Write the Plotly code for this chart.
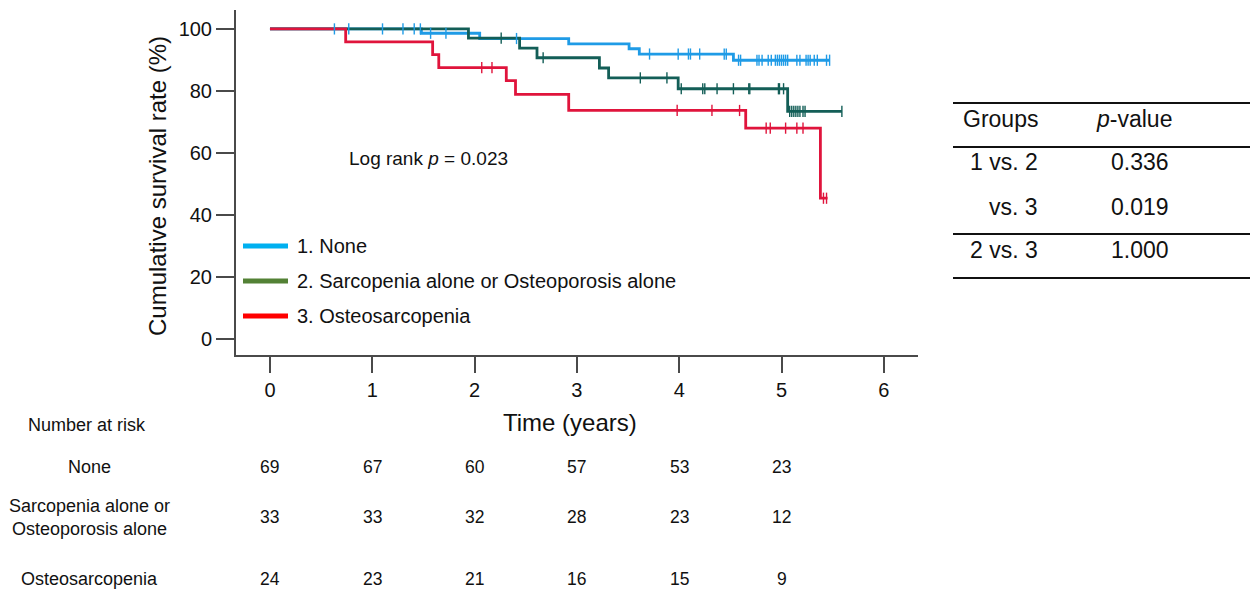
import plotly.graph_objects as go

# ---- Kaplan-Meier step data (time in years, cumulative survival in %) ----
none_t = [0, 1.48, 2.05, 2.92, 3.51, 3.61, 4.53]
none_s = [100, 98.6, 96.9, 95.2, 93.6, 91.9, 89.9]
none_end = 5.47
none_cens = [0.63, 0.77, 1.10, 1.30, 1.41, 1.47, 1.57, 1.72, 2.41, 3.71, 3.99,
             4.09, 4.11, 4.20, 4.44, 4.46, 4.58, 4.60, 4.76, 4.78, 4.81, 4.87,
             4.90, 4.94, 4.96, 4.98, 5.00, 5.02, 5.04, 5.06, 5.15, 5.18, 5.24,
             5.26, 5.28, 5.32, 5.35, 5.44, 5.47]

sarc_t = [0, 1.94, 2.44, 2.61, 3.22, 3.31, 3.99, 5.06]
sarc_s = [100, 97.0, 93.8, 90.7, 87.4, 84.2, 80.7, 73.4]
sarc_end = 5.59
sarc_cens = [2.26, 2.67, 3.62, 3.88, 4.02, 4.23, 4.25, 4.37, 4.53, 4.68, 4.69,
             4.97, 4.98, 5.02, 5.08, 5.10, 5.12, 5.14, 5.16, 5.18, 5.21, 5.23,
             5.59]

osteo_t = [0, 0.74, 1.59, 1.65, 2.31, 2.40, 2.92, 4.65, 5.38]
osteo_s = [100, 95.8, 91.7, 87.5, 83.3, 78.9, 73.7, 68.0, 45.4]
osteo_end = 5.45
osteo_cens = [2.07, 2.17, 3.98, 4.32, 4.59, 4.85, 4.89, 5.04, 5.15, 5.21,
              5.41, 5.44]

group_names = ["1. None", "2. Sarcopenia alone or Osteoporosis alone",
               "3. Osteosarcopenia"]

# ---- Number at risk ----
risk_years = [0, 1, 2, 3, 4, 5]
risk_labels = ["None", "Sarcopenia alone or<br>Osteoporosis alone",
               "Osteosarcopenia"]
risk_none = [69, 67, 60, 57, 53, 23]
risk_sarc = [33, 33, 32, 28, 23, 12]
risk_osteo = [24, 23, 21, 16, 15, 9]

# ---- Pairwise log-rank comparisons ----
pair_groups = ["1 vs. 2", "vs. 3", "2 vs. 3"]
pair_pvalues = ["0.336", "0.019", "1.000"]
logrank_p = "0.023"

line_colors = ["#1f9be6", "#135e57", "#e0143c"]
legend_colors = ["#00b0f0", "#538135", "#ff0000"]

FONT = "Liberation Sans, Arial, sans-serif"

# plot area in pixels (figure 1250 x 592)
L, R, T, B = 236, 918, 10, 355
W, H = R - L, B - T


def px_x(px):
    return (px - L) / W


def px_y(py):
    return (B - py) / H


def level_at(times, surv, t):
    val = surv[0]
    for ti, si in zip(times, surv):
        if ti <= t:
            val = si
    return val


fig = go.Figure()

series = [
    (none_t, none_s, none_end, none_cens),
    (sarc_t, sarc_s, sarc_end, sarc_cens),
    (osteo_t, osteo_s, osteo_end, osteo_cens),
]

for (t, s, end, _), col, name in zip(series, line_colors, group_names):
    fig.add_trace(go.Scatter(
        x=t + [end], y=s + [s[-1]], mode="lines", name=name,
        line=dict(color=col, width=2.8, shape="hv"), showlegend=False,
        hoverinfo="skip"))

for (t, s, end, cens), col, name in zip(series, line_colors, group_names):
    fig.add_trace(go.Scatter(
        x=cens, y=[level_at(t, s, c) for c in cens], mode="markers",
        name=name + " (censored)",
        marker=dict(symbol="line-ns-open", size=8, color=col,
                    line=dict(color=col, width=1.4)),
        showlegend=False, hoverinfo="skip"))

annotations = []
shapes = []

# legend drawn as sample lines with labels
for i, (name, col) in enumerate(zip(group_names, legend_colors)):
    py = [246, 281, 316][i]
    shapes.append(dict(type="line", xref="paper", yref="paper",
                       x0=px_x(243), x1=px_x(288), y0=px_y(py), y1=px_y(py),
                       line=dict(color=col, width=5)))
    annotations.append(dict(xref="paper", yref="paper", x=px_x(295),
                            y=px_y(py), text=name, showarrow=False,
                            xanchor="left", yanchor="middle",
                            font=dict(size=20, color="#111111", family=FONT)))

annotations.append(dict(xref="paper", yref="paper", x=px_x(347), y=px_y(158),
                        text="Log rank <i>p</i> = " + logrank_p,
                        showarrow=False, xanchor="left", yanchor="middle",
                        font=dict(size=19, color="#111111", family=FONT)))

# axis titles
annotations.append(dict(xref="paper", yref="paper", x=px_x(157), y=px_y(186),
                        text="Cumulative survival rate (%)", textangle=-90,
                        showarrow=False, xanchor="center", yanchor="middle",
                        font=dict(size=24, color="#111111", family=FONT)))
annotations.append(dict(xref="paper", yref="paper", x=px_x(570), y=px_y(423),
                        text="Time (years)", showarrow=False,
                        xanchor="center", yanchor="middle",
                        font=dict(size=24, color="#111111", family=FONT)))

# number-at-risk table
annotations.append(dict(xref="paper", yref="paper", x=px_x(87), y=px_y(425),
                        text="Number at risk", showarrow=False,
                        xanchor="center", yanchor="middle",
                        font=dict(size=18, color="#111111", family=FONT)))
row_py = [467, 517, 579]
for lab, counts, py in zip(risk_labels, [risk_none, risk_sarc, risk_osteo],
                           row_py):
    annotations.append(dict(xref="paper", yref="paper", x=px_x(89),
                            y=px_y(py), text=lab, showarrow=False,
                            xanchor="center", yanchor="middle",
                            font=dict(size=18, color="#111111", family=FONT)))
    for yr, n in zip(risk_years, counts):
        annotations.append(dict(xref="x", yref="paper", x=yr, y=px_y(py),
                                text=str(n), showarrow=False,
                                xanchor="center", yanchor="middle",
                                font=dict(size=17.5, color="#111111",
                                          family=FONT)))

# pairwise comparison table
for py in [103, 147, 234, 278]:
    shapes.append(dict(type="line", xref="paper", yref="paper",
                       x0=px_x(953), x1=px_x(1252), y0=px_y(py), y1=px_y(py),
                       line=dict(color="#111111", width=2)))
annotations.append(dict(xref="paper", yref="paper", x=px_x(1040),
                        y=px_y(119), text="Groups", showarrow=False,
                        xanchor="right", yanchor="middle",
                        font=dict(size=23, color="#111111", family=FONT)))
annotations.append(dict(xref="paper", yref="paper", x=px_x(1134),
                        y=px_y(119), text="<i>p</i>-value", showarrow=False,
                        xanchor="center", yanchor="middle",
                        font=dict(size=23, color="#111111", family=FONT)))
for g, p, py in zip(pair_groups, pair_pvalues, [162, 207, 250]):
    annotations.append(dict(xref="paper", yref="paper", x=px_x(1040),
                            y=px_y(py), text=g, showarrow=False,
                            xanchor="right", yanchor="middle",
                            font=dict(size=23, color="#111111", family=FONT)))
    annotations.append(dict(xref="paper", yref="paper", x=px_x(1140),
                            y=px_y(py), text=p, showarrow=False,
                            xanchor="center", yanchor="middle",
                            font=dict(size=23, color="#111111", family=FONT)))

axis_common = dict(showgrid=False, zeroline=False, showline=True,
                   linecolor="#4a4a4a", linewidth=2, ticks="outside",
                   tickcolor="#4a4a4a", tickwidth=2,
                   tickfont=dict(size=20, color="#111111", family=FONT))

fig.update_layout(
    width=1250, height=592,
    margin=dict(l=L, r=1250 - R, t=T, b=592 - B),
    paper_bgcolor="white", plot_bgcolor="white",
    showlegend=False,
    xaxis=dict(range=[-0.332, 6.334], tickvals=[0, 1, 2, 3, 4, 5, 6],
               ticklen=16, **axis_common),
    yaxis=dict(range=[-5.16, 106.1], tickvals=[0, 20, 40, 60, 80, 100],
               ticklen=18, **axis_common),
    shapes=shapes,
    annotations=annotations,
)

fig.write_html("out.html")
